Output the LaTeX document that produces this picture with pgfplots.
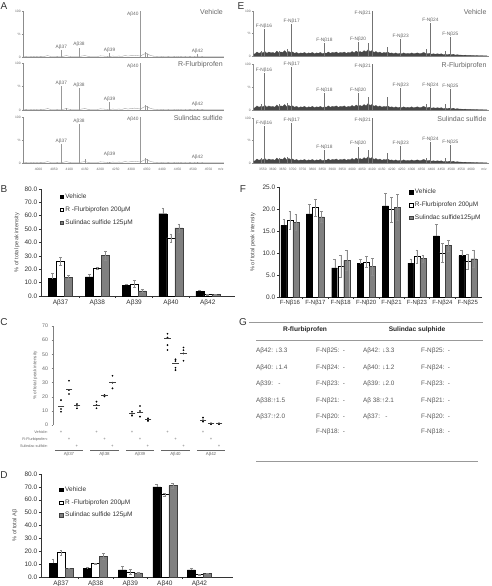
\documentclass[border=0pt]{standalone}
\usepackage{pgfplots}
\pgfplotsset{compat=1.18}
\usepackage{pgfplotstable}
\usepackage{fontspec}
\setmainfont{Liberation Sans}
\newcommand\fs[1]{\fontsize{#1}{#1}\selectfont}
\definecolor{sgray}{RGB}{128,128,128}

\pgfplotstableread{
x y
3950 0.5
3960 0.8
3970 0.5
3980 1
3990 0.6
4000 1
4010 0.7
4020 1.5
4030 3
4040 1
4050 1.2
4060 0.8
4070 1
4080 1.5
4090 3
4100 1.5
4110 1
4120 1.2
4130 1
4140 2
4150 3
4160 1.5
4170 1
4180 1.2
4190 1
4200 2.5
4210 2
4220 1.5
4230 1
4240 2
4250 1.5
4260 2
4270 1.5
4280 3
4290 2
4300 3
4310 4
4320 3
4330 2
4340 6
4350 8
4360 4
4370 2
4380 1.5
4390 1
4400 1.5
4410 1
4420 0.8
4430 1
4440 0.8
4450 1.5
4460 0.8
4470 1
4480 0.6
4490 0.8
4500 0.6
4510 1
4520 0.6
4530 0.8
4540 0.5
4550 0.6
4560 0.4
4570 0.5
4580 0.4
4590 0.5
4600 0.3
}\Anoise

\pgfplotstableread{
x y
3505 4
3510 5
3520 9
3530 6
3540 8
3550 7
3560 10
3570 6
3580 9
3590 7
3600 8
3610 6
3620 11
3630 7
3640 9
3650 8
3660 12
3670 7
3680 10
3690 8
3700 9
3710 6
3720 8
3730 5
3740 7
3750 6
3760 8
3770 5
3780 7
3790 6
3800 8
3810 5
3820 7
3830 6
3840 8
3850 5
3860 7
3870 6
3880 9
3890 6
3900 8
3910 7
3920 9
3930 6
3940 8
3950 7
3960 9
3970 6
3980 8
3990 7
4000 10
4010 7
4020 11
4030 8
4040 10
4050 8
4060 12
4070 9
4080 14
4090 10
4100 12
4110 8
4120 10
4130 7
4140 9
4150 6
4160 8
4170 7
4180 9
4190 6
4200 7
4210 5
4220 7
4230 5
4240 6
4250 5
4260 7
4270 5
4280 6
4290 5
4300 7
4310 5
4320 6
4330 7
4340 5
4350 6
4360 8
4370 6
4380 5
4390 6
4400 4
4410 5
4420 4
4430 5
4440 4
4450 5
4460 3
4470 4
4480 3
4490 4
4500 3
4510 4
4520 2
4530 3
4540 2
4550 2
4560 1.5
4570 2
4580 1
4590 1.5
4600 1
4610 1
4620 0.8
4630 1
4640 0.5
4650 0.8
4660 0.5
4670 0.5
4680 0.4
}\Enoise

\pgfplotstableread{
x v ve r re s se
0 13.0 4.0 25.8 3.0 14.0 1.3
1 14.3 2.0 21.0 0.8 30.3 3.5
2 8.0 1.0 9.0 2.5 3.8 1.0
3 61.5 4.5 43.5 3.0 51.0 3.0
4 3.5 1.2 1.0 0.3 1.0 0.2
}\Bdata

\pgfplotstableread{
x v ve r re s se
0 10.5 3.5 19.0 1.8 6.8 0.3
1 6.5 1.0 10.5 0.5 16.0 2.5
2 5.5 3.0 4.0 1.8 3.3 0.5
3 70.0 2.0 64.0 1.0 71.0 2.0
4 5.5 1.5 2.0 0.3 3.0 0.3
}\Ddata

\pgfplotstableread{
x v ve r re s se
0 16.3 1.3 17.5 2.0 17.0 1.8
1 18.9 2.2 20.3 2.0 18.2 1.3
2 6.6 1.9 6.9 2.5 8.3 2.3
3 7.6 1.0 8.0 1.2 6.9 2.0
4 20.7 2.8 19.9 2.8 20.4 3.0
5 7.7 1.0 9.2 1.5 8.8 0.8
6 13.9 2.6 10.0 2.2 11.7 1.2
7 9.4 1.2 8.1 1.7 8.7 2.0
}\Fdata

\tikzset{
  plab/.style={font=\fs{4.8}, text=black!60, inner sep=0.6pt},
  tlab/.style={font=\fs{7}, text=black!60, inner sep=0pt},
  sytl/.style={font=\fs{3.3}, text=black!60, inner sep=0pt, anchor=east, xshift=-2.2pt},
  bytl/.style={font=\fs{6.5}, text=black!80, inner sep=0pt, anchor=east, xshift=-3.6pt},
}
\newcommand\specy{%
  \node[sytl] at (rel axis cs:0,0) {0};
  \node[sytl] at (rel axis cs:0,0.5) {\%};
  \node[sytl] at (rel axis cs:0,1) {100};}
\pgfplotsset{
  every axis/.append style={/pgf/number format/assume math mode=true},
  spec/.style={scale only axis, axis x line*=bottom, axis y line*=left,
    axis line style={black!45, line width=0.3pt}, ymin=0, ymax=100, clip=false,
    ytick={0,50,100}, yticklabels={},
    tick style={black!45, line width=0.3pt}, tick align=outside, major tick length=1.2pt,
    tick label style={font=\fs{3.3}, text=black!60},
    scaled x ticks=false, xticklabel style={/pgf/number format/1000 sep={}},
  },
  specA/.style={spec, width=201pt, xmin=3950, xmax=4600, xtick={4000,4050,...,4550}},
  specE/.style={spec, width=236pt, xmin=3500, xmax=4690, xtick={3550,3600,...,4600}},
  barax/.style={scale only axis, ybar=0pt, clip=false,
    axis x line*=bottom, axis y line*=left,
    axis line style={black!80, line width=0.5pt},
    tick style={black!80, line width=0.5pt},
    tick align=outside, major tick length=2.2pt,
    xticklabels={}, yticklabels={},
    extra x tick style={major tick length=0pt},
    xticklabel style={font=\fs{6.5}, text=black!80},
    every axis y label/.style={at={(rel axis cs:0,0.5)}, rotate=90, anchor=center, yshift=24pt, font=\fs{5.6}, text=black!70},
    legend style={anchor=north west, draw=none, fill=none, font=\fs{6.5}, text=black!80, row sep=2.6pt, inner sep=0pt, cells={anchor=west}},
    legend cell align=left,
    error bars/error bar style={black!45, line width=0.4pt},
    error bars/error mark options={rotate=90, black!45, mark size=1.4pt, line width=0.4pt},
  },
  sq/.style={legend image code/.code={\draw[##1] (0pt,-1.7pt) rectangle (3.4pt,1.7pt);}},
}

\begin{document}
\begin{tikzpicture}
\path[use as bounding box] (0pt,0pt) rectangle (492pt,586pt);

% panel letters
\foreach \l/\x/\y in {A/4/580, E/241/580, B/4/397, F/243/397, C/4/264, G/243/264, D/4/111}
  \node[font=\fs{10}, text=black!80] at (\x pt,\y pt) {\l};

% ---------------- A spectra ----------------
\begin{axis}[specA, at={(23pt,529pt)}, height=46pt, xticklabels={}]
\addplot[black!45, line width=0.3pt, mark=none] table {\Anoise};
\addplot[ycomb, black!40, line width=0.6pt, mark=none] coordinates {(4074,15)(4131,20)(4230,9)(4329,100)(4514,6)(4345,10)(4351,7)};
\node[plab, above] at (axis cs:4074,15) {Aβ37};
\node[plab, above] at (axis cs:4131,20) {Aβ38};
\node[plab, above] at (axis cs:4230,9) {Aβ39};
\node[plab, above] at (axis cs:4514,6) {Aβ42};
\node[plab, anchor=east] at (axis cs:4326,93) {Aβ40};
\node[tlab, anchor=east] at (rel axis cs:0.995,0.97) {Vehicle};
\specy
\end{axis}

\begin{axis}[specA, at={(23pt,476pt)}, height=47pt, xticklabels={}]
\addplot[black!45, line width=0.3pt, mark=none] table {\Anoise};
\addplot[ycomb, black!40, line width=0.6pt, mark=none] coordinates {(4074,51)(4131,47)(4230,17)(4329,100)(4514,2)(4090,5)(4345,10)(4352,9)};
\node[plab, above] at (axis cs:4074,51) {Aβ37};
\node[plab, above] at (axis cs:4131,47) {Aβ38};
\node[plab, above] at (axis cs:4230,17) {Aβ39};
\node[plab, above] at (axis cs:4514,6) {Aβ42};
\node[plab, anchor=east] at (axis cs:4326,93) {Aβ40};
\node[tlab, anchor=east] at (rel axis cs:0.995,0.97) {R-Flurbiprofen};
\specy
\end{axis}

\begin{axis}[specA, at={(23pt,423pt)}, height=46pt]
\addplot[black!45, line width=0.3pt, mark=none] table {\Anoise};
\addplot[ycomb, black!40, line width=0.6pt, mark=none] coordinates {(4074,41)(4131,85)(4230,3)(4329,100)(4514,1.5)(4150,9)(4345,10)(4352,8)};
\node[plab, above] at (axis cs:4074,41) {Aβ37};
\node[plab, above] at (axis cs:4131,85) {Aβ38};
\node[plab, above] at (axis cs:4230,12) {Aβ39};
\node[plab, above] at (axis cs:4514,6) {Aβ42};
\node[plab, anchor=east] at (axis cs:4326,95) {Aβ40};
\node[tlab, anchor=east] at (rel axis cs:0.995,0.97) {Sulindac sulfide};
\node[font=\fs{3.3}, text=black!60, anchor=north, yshift=-1.8pt] at (axis cs:4590,0) {m/z};
\specy
\end{axis}

% ---------------- E spectra ----------------
\begin{axis}[specE, at={(253pt,530pt)}, height=45pt, xticklabels={}]
\addplot[fill=black!72, draw=black!72, line width=0.2pt] table {\Enoise} \closedcycle;
\addplot[ycomb, black!55, line width=0.55pt, mark=none] coordinates {(3555,60)(3695,71)(3860,29)(4030,31)(4100,100)(4245,38)(4395,73)(4495,42)(3540,10)(3630,12)(3675,16)(4080,28)(4175,20)(4375,15)(4470,12)};
\node[plab, above] at (axis cs:3555,60) {F-Nβ16};
\node[plab, above] at (axis cs:3695,71) {F-Nβ17};
\node[plab, above] at (axis cs:3860,29) {F-Nβ18};
\node[plab, above] at (axis cs:4030,31) {F-Nβ20};
\node[plab, anchor=east] at (axis cs:4098,96) {F-Nβ21};
\node[plab, above] at (axis cs:4245,38) {F-Nβ23};
\node[plab, above] at (axis cs:4395,73) {F-Nβ24};
\node[plab, above] at (axis cs:4495,42) {F-Nβ25};
\node[tlab, anchor=east] at (rel axis cs:0.99,0.97) {Vehicle};
\specy
\end{axis}

\begin{axis}[specE, at={(253pt,476pt)}, height=46pt, xticklabels={}]
\addplot[fill=black!72, draw=black!72, line width=0.2pt] table {\Enoise} \closedcycle;
\addplot[ycomb, black!55, line width=0.55pt, mark=none] coordinates {(3555,80)(3695,93)(3860,37)(4030,36)(4100,100)(4245,48)(4395,48)(4495,46)(3540,14)(3630,12)(3675,15)(4080,28)(4175,28)(4375,14)(4470,13)};
\node[plab, above] at (axis cs:3555,80) {F-Nβ16};
\node[plab, above] at (axis cs:3695,93) {F-Nβ17};
\node[plab, above] at (axis cs:3860,37) {F-Nβ18};
\node[plab, above] at (axis cs:4030,36) {F-Nβ20};
\node[plab, anchor=east] at (axis cs:4098,96) {F-Nβ21};
\node[plab, above] at (axis cs:4245,48) {F-Nβ23};
\node[plab, above] at (axis cs:4395,48) {F-Nβ24};
\node[plab, above] at (axis cs:4495,46) {F-Nβ25};
\node[tlab, anchor=east] at (rel axis cs:0.99,0.97) {R-Flurbiprofen};
\specy
\end{axis}

\begin{axis}[specE, at={(253pt,423pt)}, height=45pt]
\addplot[fill=black!72, draw=black!72, line width=0.2pt] table {\Enoise} \closedcycle;
\addplot[ycomb, black!55, line width=0.55pt, mark=none] coordinates {(3555,82)(3695,89)(3860,29)(4030,36)(4100,100)(4245,38)(4395,47)(4495,40)(3540,12)(3630,12)(3675,14)(4080,28)(4175,22)(4375,10)(4470,12)};
\node[plab, above] at (axis cs:3555,82) {F-Nβ16};
\node[plab, above] at (axis cs:3695,89) {F-Nβ17};
\node[plab, above] at (axis cs:3860,29) {F-Nβ18};
\node[plab, above] at (axis cs:4030,36) {F-Nβ20};
\node[plab, anchor=east] at (axis cs:4098,96) {F-Nβ21};
\node[plab, above] at (axis cs:4245,38) {F-Nβ23};
\node[plab, above] at (axis cs:4395,47) {F-Nβ24};
\node[plab, above] at (axis cs:4495,40) {F-Nβ25};
\node[tlab, anchor=east] at (rel axis cs:0.99,0.97) {Sulindac sulfide};
\node[font=\fs{3.3}, text=black!60, anchor=north, yshift=-1.8pt] at (axis cs:4665,0) {m/z};
\specy
\end{axis}

% ---------------- B ----------------
\begin{axis}[barax, at={(41pt,290pt)}, width=194pt, height=107pt,
  ymin=0, ymax=80, ytick={0,10,20,30,40,50,60,70,80},
  xmin=-0.53, xmax=4.74, bar width=8pt,
  xtick={0.5,1.5,2.5,3.5}, extra x ticks={0,1,2,3,4},
  extra x tick labels={Aβ37,Aβ38,Aβ39,Aβ40,Aβ42},
  ylabel={\% of total peak intensity},
  legend style={at={(0.095,0.975)}}]
\addplot[sq, fill=black, draw=black, error bars/.cd, y dir=plus, y explicit] table[x=x, y=v, y error=ve] {\Bdata};
\addplot[sq, fill=white, draw=black, error bars/.cd, y dir=both, y explicit] table[x=x, y=r, y error=re] {\Bdata};
\addplot[sq, fill=sgray, draw=black!75, error bars/.cd, y dir=both, y explicit] table[x=x, y=s, y error=se] {\Bdata};
\legend{Vehicle, R -Flurbiprofen 200μM, Sulindac sulfide 125μM}
\pgfplotsinvokeforeach{0,10,20,30,40,50,60,70,80}{\node[bytl] at (axis cs:-0.53,#1) {#1.0};}
\end{axis}

% ---------------- D ----------------
\begin{axis}[barax, at={(41pt,9pt)}, width=192pt, height=103pt,
  ymin=0, ymax=80, ytick={0,10,20,30,40,50,60,70,80},
  xmin=-0.58, xmax=4.97, bar width=8pt,
  xtick={0.5,1.5,2.5,3.5}, extra x ticks={0,1,2,3,4},
  extra x tick labels={Aβ37,Aβ38,Aβ39,Aβ40,Aβ42},
  ylabel={\% of total Aβ},
  every axis y label/.append style={yshift=2pt},
  legend style={at={(0.095,0.90)}}]
\addplot[sq, fill=black, draw=black, error bars/.cd, y dir=plus, y explicit] table[x=x, y=v, y error=ve] {\Ddata};
\addplot[sq, fill=white, draw=black, error bars/.cd, y dir=both, y explicit] table[x=x, y=r, y error=re] {\Ddata};
\addplot[sq, fill=sgray, draw=black!75, error bars/.cd, y dir=both, y explicit] table[x=x, y=s, y error=se] {\Ddata};
\legend{Vehicle, R -Flurbiprofen 200μM, Sulindac sulfide 125μM}
\pgfplotsinvokeforeach{0,10,20,30,40,50,60,70,80}{\node[bytl] at (axis cs:-0.58,#1) {#1.0};}
\end{axis}

% ---------------- F ----------------
\begin{axis}[barax, at={(279pt,289pt)}, width=203pt, height=110pt,
  ymin=0, ymax=25, ytick={0,5,10,15,20,25},
  xmin=-0.43, xmax=7.56, bar width=6pt,
  xtick={0.5,1.5,2.5,3.5,4.5,5.5,6.5}, extra x ticks={0,1,2,3,4,5,6,7},
  extra x tick labels={F-Nβ16,F-Nβ17,F-Nβ18,F-Nβ20,F-Nβ21,F-Nβ23,F-Nβ24,F-Nβ25},
  xticklabel style={font=\fs{6}},
  ylabel={\% of total peak intensity},
  every axis y label/.append style={yshift=2pt},
  legend style={at={(0.64,1.0)}}]
\addplot[sq, fill=black, draw=black, error bars/.cd, y dir=plus, y explicit] table[x=x, y=v, y error=ve] {\Fdata};
\addplot[sq, fill=white, draw=black, error bars/.cd, y dir=both, y explicit] table[x=x, y=r, y error=re] {\Fdata};
\addplot[sq, fill=sgray, draw=black!75, error bars/.cd, y dir=both, y explicit] table[x=x, y=s, y error=se] {\Fdata};
\legend{Vehicle, R-Flurbiprofen 200μM, Sulindac sulfide125μM}
\pgfplotsinvokeforeach{0,5,10,15,20,25}{\node[bytl] at (axis cs:-0.43,#1) {#1.0};}
\end{axis}

% ---------------- C ----------------
\begin{axis}[scale only axis, at={(53pt,161pt)}, width=169pt, height=99pt,
  xmin=-0.45, xmax=4.31, ymin=0, ymax=70, clip=false,
  axis y line*=left, axis x line=none,
  axis line style={black!50, line width=0.4pt},
  ytick={0,10,...,70}, tick style={black!50, line width=0.4pt}, tick align=outside, major tick length=1.5pt,
  yticklabel style={font=\fs{5.2}, text=black!60},
  ylabel={\% of total peak intensity}, ylabel style={font=\fs{4.6}, text=black!60, yshift=-2pt}]
\addplot[only marks, mark=*, mark size=0.65pt, black] coordinates {
 (-0.225,17.6)(-0.225,11.3)(-0.225,9.4)
 (0.775,16.5)(0.775,14.1)(0.775,11.8)
 (1.775,9.4)(1.775,8)(1.775,6.6)
 (2.775,64.5)(2.775,61.8)(2.775,56.5)(2.775,53)
 (3.775,5.2)(3.775,3.3)(3.775,2.4)
 (0,31.3)(0,24.7)(0,21.9)
 (1,21.2)(1,20.7)(1,20.2)
 (2,13.4)(2,9.9)(2,5.9)
 (3,46.4)(3,45.2)(3,40.5)(3,38.8)
 (4,1.2)(4,0.9)(4,0.6)
 (0.225,14.8)(0.225,13.6)(0.225,11.8)
 (1.225,34.8)(1.225,29.9)(1.225,25.9)
 (2.225,4.7)(2.225,3.3)(2.225,2.8)
 (3.225,54.8)(3.225,52.9)(3.225,50.6)(3.225,45.4)
 (4.225,1.2)(4.225,0.9)(4.225,0.6)};
\addplot[only marks, mark=-, mark size=3.3pt, black!75, mark options={line width=0.5pt}] coordinates {
 (-0.225,13)(0.775,14.3)(1.775,8)(2.775,61.5)(3.775,3.5)
 (0,25.6)(1,21)(2,9)(3,43.5)(4,1)
 (0.225,14)(1.225,30.3)(2.225,3.8)(3.225,51)(4.225,1)};
\pgfplotsinvokeforeach{0,...,4}{
  \node[font=\fs{4.2}, text=black!60] at (axis cs:#1-0.225,-5) {+};
  \node[font=\fs{4.2}, text=black!60] at (axis cs:#1,-10) {+};
  \node[font=\fs{4.2}, text=black!60] at (axis cs:#1+0.225,-15) {+};
  \draw[black!60, line width=0.4pt] (axis cs:#1-0.4,-17.5) -- (axis cs:#1+0.4,-17.5);
}
\node[font=\fs{3.8}, text=black!60, anchor=east] at (axis cs:-0.5,-5) {Vehicle:};
\node[font=\fs{3.8}, text=black!60, anchor=east] at (axis cs:-0.5,-10) {R-Flurbiprofen:};
\node[font=\fs{3.8}, text=black!60, anchor=east] at (axis cs:-0.5,-15) {Sulindac sulfide:};
\node[font=\fs{4.4}, text=black!60] at (axis cs:0,-21) {Aβ37};
\node[font=\fs{4.4}, text=black!60] at (axis cs:1,-21) {Aβ38};
\node[font=\fs{4.4}, text=black!60] at (axis cs:2,-21) {Aβ39};
\node[font=\fs{4.4}, text=black!60] at (axis cs:3,-21) {Aβ40};
\node[font=\fs{4.4}, text=black!60] at (axis cs:4,-21) {Aβ42};
\end{axis}

% ---------------- G ----------------
\draw[black!40, line width=0.5pt] (249pt,264pt) -- (483pt,264pt);
\node[font=\fs{6.6}\bfseries, text=black!85] at (305pt,256pt) {R-flurbiprofen};
\node[font=\fs{6.6}\bfseries, text=black!85] at (417pt,256pt) {Sulindac sulphide};
\draw[black!40, line width=0.5pt] (256pt,246pt) -- (483pt,246pt);
\begin{scope}[every node/.style={font=\fs{6.4}, text=black!65, anchor=west, inner sep=0pt}]
\node at (256pt,235pt) {Aβ42: ↓3.3};
\node at (316pt,235pt) {F-Nβ25:\ \ -};
\node at (363pt,235pt) {Aβ42: ↓3.3};
\node at (421pt,235pt) {F-Nβ25:\ \ -};
\node at (256pt,218pt) {Aβ40: ↓1.4};
\node at (316pt,218pt) {F-Nβ24:\ \ -};
\node at (363pt,218pt) {Aβ40: ↓1.2};
\node at (421pt,218pt) {F-Nβ24:\ \ -};
\node at (256pt,202pt) {Aβ39:\ \ \ -};
\node at (316pt,202pt) {F-Nβ23:\ \ -};
\node at (363pt,202pt) {Aβ39: ↓2.0};
\node at (421pt,202pt) {F-Nβ23:\ \ -};
\node at (256pt,185pt) {Aβ38:↑1.5};
\node at (316pt,185pt) {F-Nβ21:\ \ -};
\node at (363pt,185pt) {Aβ 38:↑2.1};
\node at (421pt,185pt) {F-Nβ21:\ \ -};
\node at (256pt,169pt) {Aβ37:↑2.0};
\node at (316pt,169pt) {F-Nβ20:\ \ -};
\node at (363pt,169pt) {Aβ37:\ \ \ -};
\node at (421pt,169pt) {F-Nβ20:\ \ -};
\node at (316pt,154pt) {F-Nβ18:\ \ -};
\node at (421pt,154pt) {F-Nβ18:\ \ -};
\end{scope}
\draw[black!40, line width=0.5pt] (256pt,125pt) -- (478pt,125pt);
\end{tikzpicture}
\end{document}
